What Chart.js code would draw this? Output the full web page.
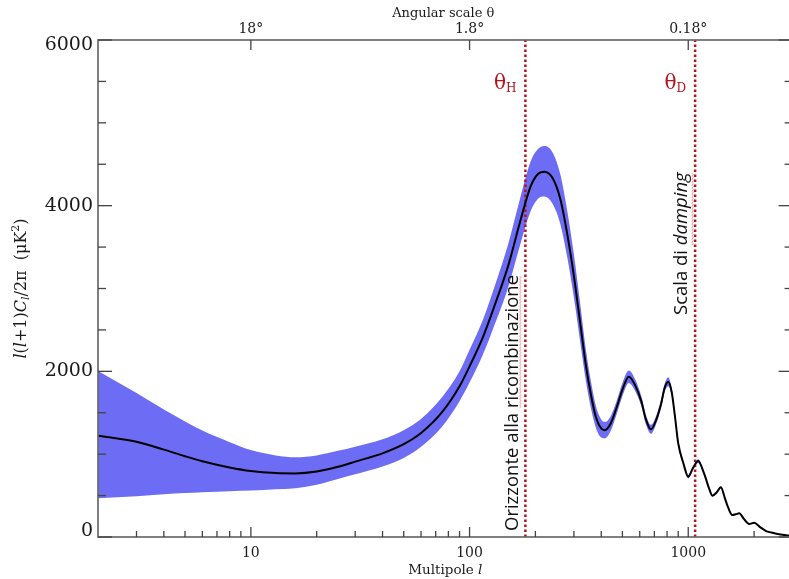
<!DOCTYPE html>
<html>
<head>
<meta charset="utf-8">
<script src="https://cdn.jsdelivr.net/npm/chart.js@4.4.1/dist/chart.umd.min.js"></script>
<style>
  html, body { margin: 0; padding: 0; overflow: hidden; background: #fff; }
  #wrap { width: 800px; height: 579px; }
</style>
</head>
<body>
<div id="wrap"><canvas id="cmbChart"></canvas></div>
<script>
// Multipoles and spectrum values
const multipoles = [2,3,4,5,6,8,10,13,16,20,25,30,40,50,60,75,90,100,115,130,150,170,190,205,220,240,260,280,300,320,340,360,380,400,415,440,470,500,535,570,610,640,675,710,750,780,810,840,870,900,950,1000,1050,1110,1180,1240,1290,1350,1410,1470,1520,1590,1650,1710,1800,1900,2000,2130,2270,2450,2600,2800,3000];
const spectrum = [1223,1150,1055,975,915,840,797,772,768,790,848,910,1010,1120,1255,1510,1820,2060,2410,2790,3270,3800,4230,4380,4410,4330,4080,3650,3150,2600,2080,1700,1430,1310,1290,1360,1560,1780,1935,1840,1640,1420,1300,1400,1600,1800,1875,1750,1450,1130,890,728,830,917,770,600,499,540,600,470,360,266,275,286,215,157,173,120,72,48,33,20,12];
const bandUpper = [2004,1738,1540,1395,1285,1145,1050,985,962,985,1040,1090,1180,1290,1425,1690,2000,2260,2620,3020,3530,4080,4530,4680,4720,4640,4380,3930,3410,2830,2270,1860,1560,1420,1390,1450,1640,1860,2010,1910,1700,1480,1355,1450,1650,1850,1930,1795,1490,1165,915,750,852,940,788,614,510,552,613,480,368,272,281,292,220,161,177,123,74,49,34,21,12];
const bandLower = [467,493,515,530,541,552,560,575,590,630,700,757,850,955,1090,1335,1640,1865,2200,2560,3010,3520,3930,4080,4110,4020,3780,3370,2890,2370,1890,1540,1300,1200,1190,1270,1480,1700,1860,1770,1580,1360,1245,1350,1550,1750,1820,1705,1410,1095,865,706,808,894,752,586,488,528,587,460,352,260,269,280,210,153,169,117,70,47,32,19,12];

// Marker multipoles (horizon at recombination, damping scale)
const markerL = [180, 1075];
const markerNames = ['H', 'D'];

// Axis ticks and labels
const xMajor = [10, 100, 1000];
const xMajorLabels = ['10', '100', '1000'];
const xMinor = [3,4,5,6,7,8,9,20,30,40,50,60,70,80,90,200,300,400,500,600,700,800,900,2000];
const topLabels = ['18\u00b0', '1.8\u00b0', '0.18\u00b0'];
const yTicks = [0,500,1000,1500,2000,2500,3000,3500,4000,4500,5000,5500,6000];
const yLabelValues = [0, 2000, 4000, 6000];

const serif = '"DejaVu Serif", serif';
const sans = '"Open Sans", "Noto Sans", sans-serif';
const bandColor = 'rgb(108,108,244)';
const markerColor = '#b5121b';

const toPoints = ys => multipoles.map((l, i) => ({ x: l, y: ys[i] }));
const markerLine = l => [{ x: l, y: 0 }, { x: l, y: 6000 }];

function seg(c, x1, y1, x2, y2) {
    c.beginPath(); c.moveTo(x1, y1); c.lineTo(x2, y2); c.stroke();
}

// draw text made of several styled pieces, starting at x (or centred)
function rich(c, parts, x, y, centre) {
    let total = 0;
    parts.forEach(p => { c.font = p.font; p.w = c.measureText(p.text).width; total += p.w; });
    let cx = centre ? x - total / 2 : x;
    parts.forEach(p => { c.font = p.font; c.fillText(p.text, cx, y + (p.dy || 0)); cx += p.w; });
    return total;
}

function squiggle(c, x0, len, y) {
    c.save();
    c.strokeStyle = 'rgba(235,90,90,0.75)';
    c.lineWidth = 0.8;
    c.beginPath();
    for (let i = 0; i <= len; i += 1.5) {
        const yy = y + ((Math.round(i / 1.5) % 2) ? 1 : -0.2);
        if (i === 0) c.moveTo(x0 + i, yy); else c.lineTo(x0 + i, yy);
    }
    c.stroke();
    c.restore();
}

const decor = {
    id: 'decor',
    afterDatasetsDraw(chart) {
        const c = chart.ctx;
        const { left, right, top, bottom } = chart.chartArea;
        const xs = chart.scales.x, ys = chart.scales.y;
        c.save();

        // frame
        c.strokeStyle = '#6a6a6a';
        c.lineWidth = 1.7;
        c.strokeRect(left, top, right - left, bottom - top);

        // y ticks on both sides
        c.strokeStyle = '#444';
        c.lineWidth = 1.3;
        yTicks.forEach(v => {
            const py = ys.getPixelForValue(v);
            const len = yLabelValues.includes(v) ? 14 : 8;
            seg(c, left, py, left + len, py);
            seg(c, right, py, right - len, py);
        });
        // x ticks bottom and top
        xMajor.forEach(v => {
            const px = xs.getPixelForValue(v);
            seg(c, px, bottom, px, bottom - 10);
            seg(c, px, top, px, top + 10);
        });
        xMinor.forEach(v => {
            const px = xs.getPixelForValue(v);
            seg(c, px, bottom, px, bottom - 6);
        });

        // tick labels
        c.fillStyle = '#1a1a1a';
        c.textBaseline = 'middle';
        c.textAlign = 'right';
        c.font = '19px ' + serif;
        yLabelValues.forEach(v => {
            let py = ys.getPixelForValue(v);
            py = Math.min(Math.max(py, top + 5), bottom - 6);
            c.fillText(String(v), left - 5, py);
        });
        c.textAlign = 'center';
        c.font = '14px ' + serif;
        xMajor.forEach((v, i) => {
            c.fillText(xMajorLabels[i], xs.getPixelForValue(v), bottom + 16);
            c.fillText(topLabels[i], xs.getPixelForValue(v), top - 11);
        });

        // axis titles
        const mid = (left + right) / 2;
        c.textAlign = 'left';
        rich(c, [{ text: 'Angular scale \u03b8', font: '13px ' + serif }], mid - 2, 14, true);
        rich(c, [
            { text: 'Multipole ', font: '13.5px ' + serif },
            { text: 'l', font: 'italic 13.5px ' + serif }
        ], mid, 570, true);

        c.save();
        c.translate(22, (top + bottom) / 2);
        c.rotate(-Math.PI / 2);
        const f = '16px ' + serif, fi = 'italic 16px ' + serif, fs = '11px ' + serif, fsi = 'italic 11px ' + serif;
        rich(c, [
            { text: 'l', font: fi }, { text: '(', font: f }, { text: 'l', font: fi },
            { text: '+1)', font: f }, { text: 'C', font: fi }, { text: 'l', font: fsi, dy: 4 },
            { text: '/2\u03c0  (\u03bcK', font: f }, { text: '2', font: fs, dy: -6 }, { text: ')', font: f }
        ], 0, 0, true);
        c.restore();

        // marker labels
        c.fillStyle = markerColor;
        markerL.forEach((l, i) => {
            const px = xs.getPixelForValue(l);
            c.font = '20px ' + serif;
            const w1 = c.measureText('\u03b8').width;
            c.font = '12px ' + serif;
            const w2 = c.measureText(markerNames[i]).width;
            const x0 = px - 9 - w1 - w2;
            rich(c, [
                { text: '\u03b8', font: '20px ' + serif },
                { text: markerNames[i], font: '12px ' + serif, dy: 5 }
            ], x0, 84, false);
        });

        // rotated annotations
        c.fillStyle = '#111';
        c.textBaseline = 'alphabetic';
        c.save();
        c.translate(xs.getPixelForValue(markerL[0]) - 7, bottom - 6);
        c.rotate(-Math.PI / 2);
        c.font = '18.5px ' + sans;
        const pre = 'Orizzonte alla ';
        const wPre = c.measureText(pre).width;
        const wWord = c.measureText('ricombinazione').width;
        c.fillText(pre + 'ricombinazione', 0, 0);
        squiggle(c, wPre, wWord, 1.5);
        c.restore();

        c.save();
        c.translate(xs.getPixelForValue(markerL[1]) - 8, 315);
        c.rotate(-Math.PI / 2);
        const wd = rich(c, [
            { text: 'Scala di ', font: '18.5px ' + sans },
            { text: 'damping', font: 'italic 18.5px ' + sans }
        ], 0, 0, false);
        c.font = '18.5px ' + sans;
        const ws = c.measureText('Scala di ').width;
        squiggle(c, ws, wd - ws, 5);
        c.restore();

        c.restore();
    }
};

const chartCtx = document.getElementById('cmbChart').getContext('2d');
const cmbChart = new Chart(chartCtx, {
    type: 'line',
    data: {
        datasets: [
            {
                label: 'spectrum',
                data: toPoints(spectrum),
                borderColor: '#000',
                borderWidth: 2,
                pointRadius: 0,
                fill: false,
                cubicInterpolationMode: 'monotone',
                order: 0
            },
            {
                label: 'band upper',
                data: toPoints(bandUpper),
                borderWidth: 0,
                borderColor: bandColor,
                backgroundColor: bandColor,
                pointRadius: 0,
                fill: '+1',
                cubicInterpolationMode: 'monotone',
                order: 3
            },
            {
                label: 'band lower',
                data: toPoints(bandLower),
                borderWidth: 0,
                borderColor: bandColor,
                pointRadius: 0,
                fill: false,
                cubicInterpolationMode: 'monotone',
                order: 3
            },
            ...markerL.map(l => ({
                label: 'marker ' + l,
                data: markerLine(l),
                borderColor: markerColor,
                borderWidth: 2.5,
                borderDash: [2.5, 2.5],
                pointRadius: 0,
                fill: false,
                order: 1
            }))
        ]
    },
    options: {
        responsive: true,
        maintainAspectRatio: false,
        animation: false,
        devicePixelRatio: 1,
        layout: { padding: { left: 98, top: 40, right: 7.4, bottom: 42 } },
        plugins: { legend: { display: false }, tooltip: { enabled: false } },
        scales: {
            x: { type: 'logarithmic', min: 2, max: 3000, display: false },
            y: { type: 'linear', min: 0, max: 6000, display: false }
        }
    },
    plugins: [decor]
});
</script>
</body>
</html>
